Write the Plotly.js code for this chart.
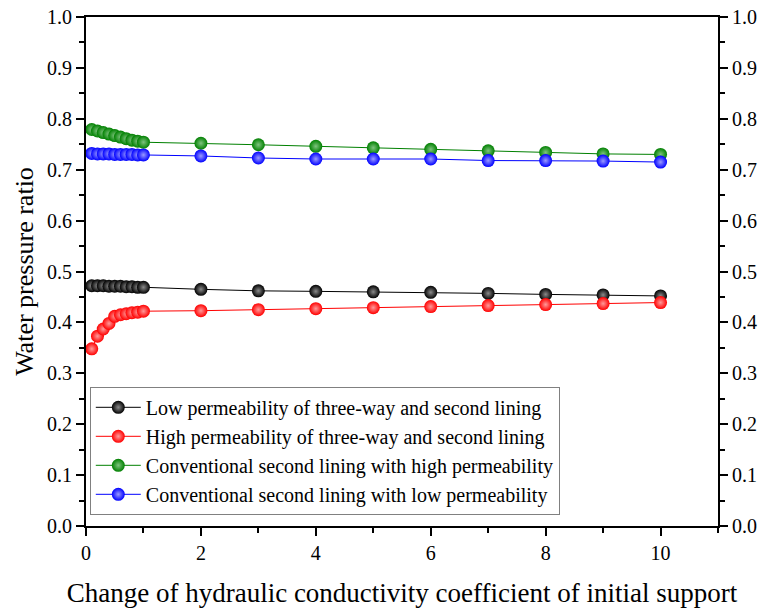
<!DOCTYPE html>
<html>
<head>
<meta charset="utf-8">
<script src="https://cdn.plot.ly/plotly-3.0.1.min.js"></script>
<style>html,body{margin:0;padding:0;background:#fff;}#chart{width:764px;height:610px;}</style>
</head>
<body>
<div id="chart"></div>
<script>
const xValues = [0.1, 0.2, 0.3, 0.4, 0.5, 0.6, 0.7, 0.8, 0.9, 1.0, 2, 3, 4, 5, 6, 7, 8, 9, 10];
const lowThreeWay = [0.472, 0.472, 0.472, 0.471, 0.471, 0.471, 0.470, 0.470, 0.469, 0.469, 0.465, 0.462, 0.461, 0.460, 0.459, 0.457, 0.455, 0.454, 0.452];
const highThreeWay = [0.348, 0.373, 0.387, 0.398, 0.412, 0.415, 0.417, 0.419, 0.420, 0.422, 0.423, 0.425, 0.427, 0.429, 0.431, 0.433, 0.435, 0.437, 0.439];
const convHigh = [0.779, 0.776, 0.773, 0.770, 0.767, 0.764, 0.761, 0.758, 0.756, 0.754, 0.752, 0.749, 0.746, 0.743, 0.740, 0.737, 0.734, 0.731, 0.730];
const convLow = [0.732, 0.731, 0.731, 0.731, 0.730, 0.730, 0.730, 0.730, 0.729, 0.729, 0.727, 0.723, 0.721, 0.721, 0.721, 0.718, 0.718, 0.717, 0.715];
const seriesNames = [
  'Low permeability of three-way and second lining',
  'High permeability of three-way and second lining',
  'Conventional second lining with high permeability',
  'Conventional second lining with low permeability'
];
const seriesColors = ['#000000', '#ff0000', '#008000', '#0000ff'];
const highlightColors = ['#8a8a8a', '#ff9a9a', '#7fc47f', '#9a9aff'];
const seriesData = [lowThreeWay, highThreeWay, convHigh, convLow];

const FONT = "'Liberation Serif', 'Times New Roman', serif";
const traces = seriesData.map((ys, i) => ({
  x: xValues, y: ys, name: seriesNames[i], type: 'scatter', mode: 'lines+markers',
  line: {color: seriesColors[i], width: 1},
  marker: {color: seriesColors[i], size: 13, line: {width: 0},
           gradient: {type: 'radial', color: highlightColors[i]}},
  hoverinfo: 'x+y'
}));
traces.push({x: xValues, y: lowThreeWay, yaxis: 'y2', mode: 'lines', line: {width: 0},
  opacity: 0, showlegend: false, hoverinfo: 'skip'});

const axisCommon = {
  showline: true, linewidth: 2, linecolor: '#000', ticks: 'outside', ticklen: 8, tickwidth: 2,
  tickcolor: '#000', showgrid: false, zeroline: false,
  tickfont: {family: FONT, size: 20, color: '#000'}
};
const layout = {
  width: 764, height: 610,
  margin: {l: 86, r: 46, t: 17, b: 84},
  paper_bgcolor: '#fff', plot_bgcolor: '#fff',
  font: {family: FONT, color: '#000'},
  showlegend: true,
  xaxis: Object.assign({}, axisCommon, {
    range: [0, 11], dtick: 2, tick0: 0, mirror: true,
    minor: {dtick: 1, tick0: 0, ticks: 'outside', ticklen: 5, tickwidth: 2, tickcolor: '#000', showgrid: false},
    title: {text: 'Change of hydraulic conductivity coefficient of initial support',
            font: {family: FONT, size: 27, color: '#000'}, standoff: 20}
  }),
  yaxis: Object.assign({}, axisCommon, {
    range: [0, 1], dtick: 0.1, tickformat: '.1f',
    minor: {dtick: 0.05, ticks: 'outside', ticklen: 5, tickwidth: 2, tickcolor: '#000', showgrid: false},
    title: {text: 'Water pressure ratio', font: {family: FONT, size: 26, color: '#000'}, standoff: 6}
  }),
  yaxis2: Object.assign({}, axisCommon, {
    range: [0, 1], dtick: 0.1, tickformat: '.1f', overlaying: 'y', side: 'right',
    minor: {dtick: 0.05, ticks: 'outside', ticklen: 5, tickwidth: 2, tickcolor: '#000', showgrid: false}
  }),
  legend: {
    x: 0.006, y: 0.022, xanchor: 'left', yanchor: 'bottom',
    bgcolor: '#fff', bordercolor: '#808080', borderwidth: 1, itemwidth: 45,
    font: {family: FONT, size: 20, color: '#000'}, tracegroupgap: 0
  }
};
Plotly.newPlot('chart', traces, layout, {displayModeBar: false, staticPlot: true});
</script>
</body>
</html>
